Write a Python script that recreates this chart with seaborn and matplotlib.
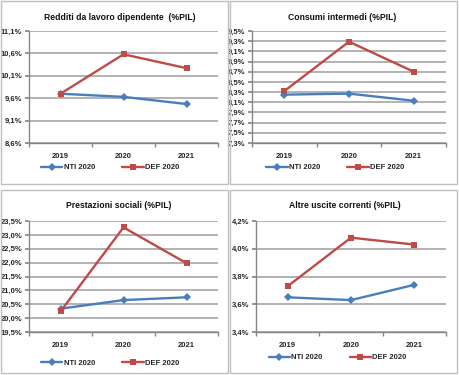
import matplotlib
matplotlib.use("Agg")
import matplotlib.pyplot as plt
import seaborn as sns
import pandas as pd
from matplotlib.patches import Rectangle
from matplotlib.ticker import FixedLocator, FuncFormatter

years = ["2019", "2020", "2021"]
series_names = ["NTI 2020", "DEF 2020"]

titles = ["Redditi da lavoro dipendente  (%PIL)", "Consumi intermedi (%PIL)",
          "Prestazioni sociali (%PIL)", "Altre uscite correnti (%PIL)"]

redditi_nti = [9.70, 9.63, 9.47]
redditi_def = [9.70, 10.58, 10.27]
consumi_nti = [8.25, 8.27, 8.13]
consumi_def = [8.32, 9.29, 8.70]
prestazioni_nti = [20.34, 20.65, 20.75]
prestazioni_def = [20.24, 23.27, 21.98]
altre_nti = [3.65, 3.63, 3.74]
altre_def = [3.73, 4.08, 4.03]

yticks_1 = [8.6, 9.1, 9.6, 10.1, 10.6, 11.1]
yticks_2 = [7.3, 7.5, 7.7, 7.9, 8.1, 8.3, 8.5, 8.7, 8.9, 9.1, 9.3, 9.5]
yticks_3 = [19.5, 20.0, 20.5, 21.0, 21.5, 22.0, 22.5, 23.0, 23.5]
yticks_4 = [3.4, 3.6, 3.8, 4.0, 4.2]

panels = [
    (titles[0], redditi_nti, redditi_def, yticks_1),
    (titles[1], consumi_nti, consumi_def, yticks_2),
    (titles[2], prestazioni_nti, prestazioni_def, yticks_3),
    (titles[3], altre_nti, altre_def, yticks_4),
]

sns.set_theme(style="white")
plt.rcParams['font.family'] = ['Liberation Sans', 'DejaVu Sans']

W, H = 459, 375
fig = plt.figure(figsize=(W / 100, H / 100), dpi=100)

# panel frames (pixels: x0, y0, x1, y1)
frames = [(1, 1, 228, 184), (230, 1, 457, 184), (1, 190, 228, 373), (230, 190, 457, 373)]
for x0, y0, x1, y1 in frames:
    fig.patches.append(Rectangle((x0 / W, 1 - y1 / H), (x1 - x0) / W, (y1 - y0) / H,
                                 transform=fig.transFigure, fill=False,
                                 edgecolor="#c0c0c0", linewidth=1.0))

# axes rectangles in pixels: left, top, right, bottom
axes_px = [(29, 31, 218, 143), (252, 31, 446, 143), (29, 221, 218, 332), (256, 221, 446, 332)]
title_x = [120, 342, 119, 345]
legend_y = [-0.22, -0.22, -0.28, -0.23]

blue = "#4a7ebb"
red = "#be4b48"

for i, ((title, nti, dfv, yt), (l, t, r, b), (fx0, fy0, fx1, fy1)) in enumerate(zip(panels, axes_px, frames)):
    ax = fig.add_axes([l / W, 1 - b / H, (r - l) / W, (b - t) / H])
    df = pd.DataFrame({
        "Anno": years * 2,
        "Valore": nti + dfv,
        "Serie": [series_names[0]] * 3 + [series_names[1]] * 3,
    })
    sns.lineplot(data=df, x="Anno", y="Valore", hue="Serie", style="Serie",
                 markers={"NTI 2020": "D", "DEF 2020": "s"}, dashes=False,
                 palette={"NTI 2020": blue, "DEF 2020": red},
                 linewidth=1.7, markersize=4.5, markeredgewidth=0, ax=ax, sort=False)
    ax.set_xlim(-0.5, 2.5)
    ax.set_ylim(yt[0], yt[-1])
    ax.yaxis.set_major_locator(FixedLocator(yt))
    ax.yaxis.set_major_formatter(FuncFormatter(lambda v, p: (f"{v:.1f}%").replace(".", ",")))
    ax.grid(axis="y", color="#a6a6a6", linewidth=1.2)
    ax.set_axisbelow(True)
    for s in ["top", "right"]:
        ax.spines[s].set_visible(False)
    for s in ["left", "bottom"]:
        ax.spines[s].set_color("#868686")
        ax.spines[s].set_linewidth(1.0)
    ax.set_xlabel("")
    ax.set_ylabel("")
    ax.xaxis.set_minor_locator(FixedLocator([-0.5, 0.5, 1.5, 2.5]))
    ax.tick_params(axis="x", which="major", length=0, pad=7, labelsize=5.5)
    ax.tick_params(axis="x", which="minor", length=3, color="#868686", direction="out", bottom=True)
    ax.tick_params(axis="y", length=3, color="#868686", direction="out", left=True, pad=2, labelsize=5.5)
    for lab in ax.get_xticklabels() + ax.get_yticklabels():
        lab.set_fontweight("bold")
    fig.text(title_x[i] / W, 1 - (fy0 + 16) / H, title, ha="center", va="center",
             fontsize=6.2, fontweight="bold", color="#111111")
    leg = ax.legend(loc="center", bbox_to_anchor=(0.43, legend_y[i]), ncol=2, frameon=False,
                    fontsize=5.5, handlelength=2.8, columnspacing=3.5, handletextpad=0.2,
                    borderaxespad=0)
    for txt in leg.get_texts():
        txt.set_fontweight("bold")

fig.savefig("out.png", dpi=100)
